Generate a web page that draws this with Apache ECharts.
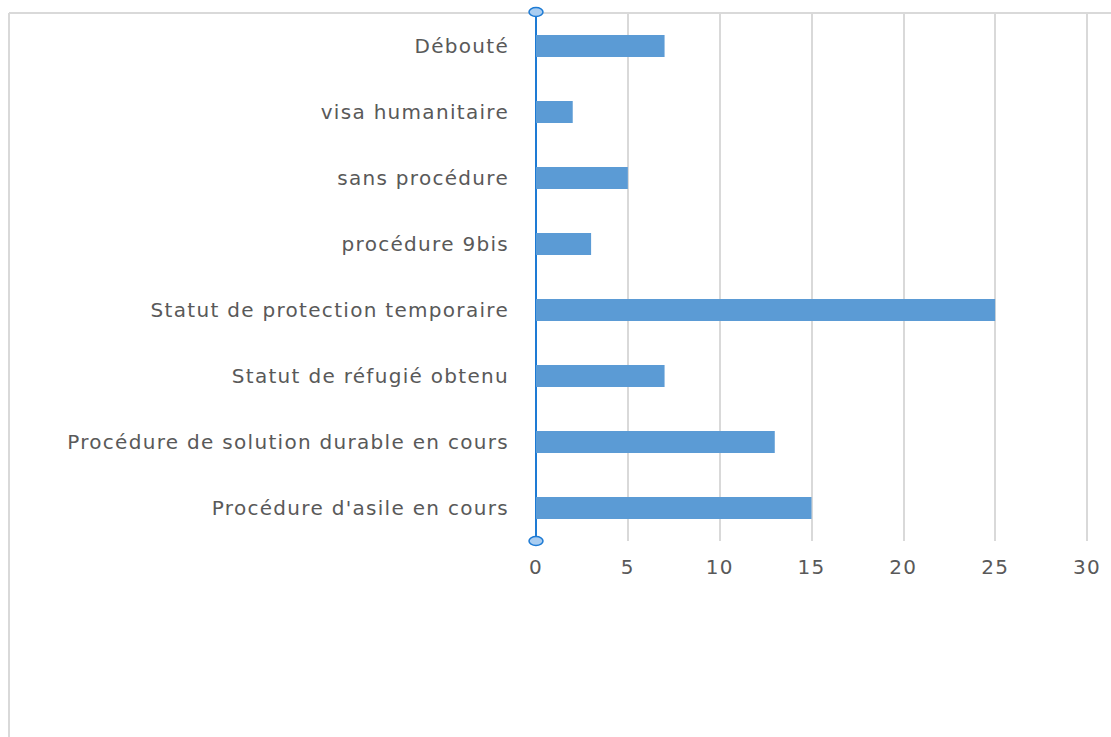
<!DOCTYPE html>
<html><head><meta charset="utf-8">
<script src="https://cdn.jsdelivr.net/npm/echarts@6/dist/echarts.min.js"></script>
<style>html,body{margin:0;padding:0;background:#fff;}#c{width:1111px;height:737px;letter-spacing:1.3px;}</style>
</head><body><div id="c"></div>
<script>
const categories = ["Procédure d'asile en cours","Procédure de solution durable en cours","Statut de réfugié obtenu","Statut de protection temporaire","procédure 9bis","sans procédure","visa humanitaire","Débouté"];
const values = [15,13,7,25,3,5,2,7];
const xTicks = [0,5,10,15,20,25,30];

const chart = echarts.init(document.getElementById('c'), null, {renderer:'svg'});
chart.setOption({
  animation:false,
  backgroundColor:'#fff',
  graphic:[
    {type:'line',shape:{x1:9,y1:13,x2:1111,y2:13},style:{stroke:'#d9d9d9',lineWidth:2},z:0},
    {type:'line',shape:{x1:9,y1:13,x2:9,y2:737},style:{stroke:'#d9d9d9',lineWidth:2},z:0},
    {type:'ellipse',shape:{cx:536,cy:12,rx:7,ry:4.5},style:{fill:'#a9cdf1',stroke:'#1e7bd4',lineWidth:1.5},z:100},
    {type:'ellipse',shape:{cx:536,cy:541,rx:7,ry:4.5},style:{fill:'#a9cdf1',stroke:'#1e7bd4',lineWidth:1.5},z:100}
  ],
  grid:{left:536,right:24,top:13,bottom:196,containLabel:false},
  xAxis:{type:'value',min:xTicks[0],max:xTicks[xTicks.length-1],interval:5,
    axisLine:{show:false},axisTick:{show:false},
    splitLine:{lineStyle:{color:'#d9d9d9',width:2}},
    axisLabel:{color:'#595959',fontFamily:'DejaVu Sans',fontSize:20,margin:16}},
  yAxis:{type:'category',data:categories,
    axisLine:{show:true,lineStyle:{color:'#1e7bd4',width:2}},
    axisTick:{show:false},
    axisLabel:{color:'#595959',fontFamily:'DejaVu Sans',fontSize:20,margin:27}},
  series:[{type:'bar',data:values,barWidth:22,itemStyle:{color:'#5b9bd5'}}]
});
</script></body></html>
